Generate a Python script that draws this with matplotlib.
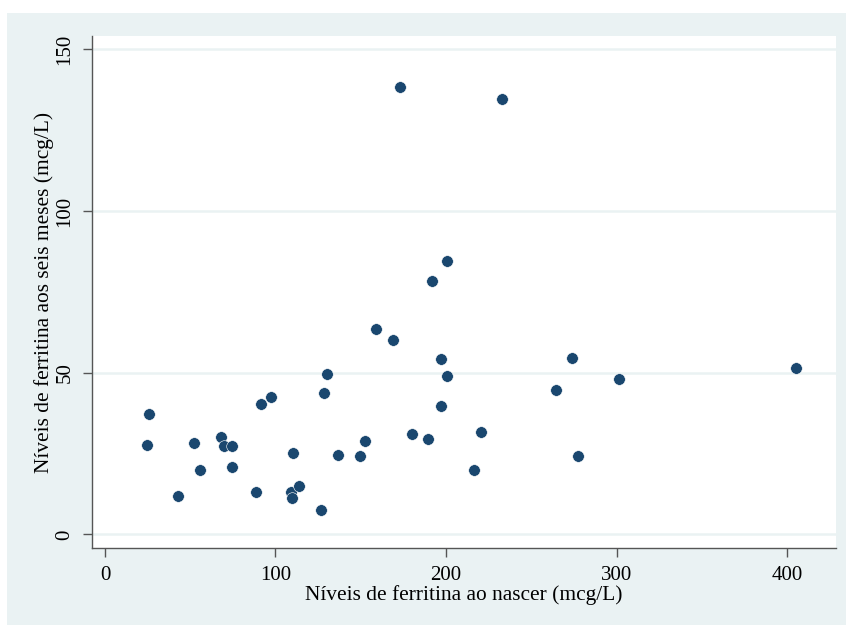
import numpy as np
import matplotlib
matplotlib.use('Agg')
import matplotlib.pyplot as plt
from matplotlib.patches import Rectangle

# Ferritin at birth (x) vs at six months (y)
ferritina_nascer = [25.8, 24.8, 43.0, 52.0, 55.5, 68.0, 69.8, 74.7, 74.7, 88.6,
                    91.7, 97.6, 110.1, 108.9, 109.7, 113.8, 126.5, 128.7, 130.2, 136.5,
                    149.8, 152.3, 159.2, 169.2, 179.9, 189.4, 196.9, 200.6, 196.9, 220.8,
                    216.6, 273.9, 264.7, 277.4, 172.8, 232.7, 200.6, 192.0, 301.6, 405.5]
ferritina_6m = [37.2, 27.5, 11.8, 28.3, 20.0, 30.1, 27.2, 27.4, 20.9, 13.0,
                40.4, 42.5, 25.1, 13.0, 11.3, 14.9, 7.4, 43.8, 49.7, 24.5,
                24.3, 28.9, 63.5, 60.2, 31.0, 29.4, 54.1, 49.0, 39.6, 31.7,
                19.9, 54.4, 44.7, 24.1, 138.3, 134.7, 84.4, 78.2, 47.9, 51.3]
x_ticks = [0, 100, 200, 300, 400]
y_ticks = [0, 50, 100, 150]

bg = '#eaf2f3'
navy = '#1a476f'
axis_gray = '#555555'

plt.rcParams['font.family'] = ['Liberation Serif', 'DejaVu Serif']

fig = plt.figure(figsize=(8.46, 6.25), dpi=100, facecolor='white')
# light graph region (image is cropped at right/bottom)
fig.patches.append(Rectangle((7 / 846, 0), 1, (625 - 13) / 625,
                             transform=fig.transFigure, facecolor=bg,
                             edgecolor='none', zorder=-10))

ax = fig.add_axes([92 / 846, (625 - 548.3) / 625, (836 - 92) / 846, (548.3 - 36) / 625])
ax.set_zorder(1)
ax.set_facecolor('white')

ax.scatter(ferritina_nascer, ferritina_6m, s=70, color=navy, edgecolors='white',
           linewidths=0.4, zorder=3)

ax.set_xlim(-7.6, 428.7)
ax.set_ylim(-4.3, 154.1)
ax.set_xticks(x_ticks)
ax.set_yticks(y_ticks)
ax.grid(axis='y', color=bg, linewidth=1.8, zorder=0)
ax.set_axisbelow(True)

for side in ['top', 'right']:
    ax.spines[side].set_visible(False)
for side in ['left', 'bottom']:
    ax.spines[side].set_color(axis_gray)
    ax.spines[side].set_linewidth(1.0)

ax.tick_params(axis='both', colors=axis_gray, length=6.5, width=1.0,
               labelsize=15, labelcolor='black')
ax.tick_params(axis='x', pad=6)
ax.tick_params(axis='y', pad=6)
for lab in ax.get_yticklabels():
    lab.set_rotation(90)
    lab.set_va('center')

ax.set_xlabel('Níveis de ferritina ao nascer (mcg/L)', fontsize=15.4, labelpad=0)
ax.set_ylabel('Níveis de ferritina aos seis meses (mcg/L)', fontsize=15.4, labelpad=1.5)

fig.savefig('out.png', dpi=100, facecolor='white')
